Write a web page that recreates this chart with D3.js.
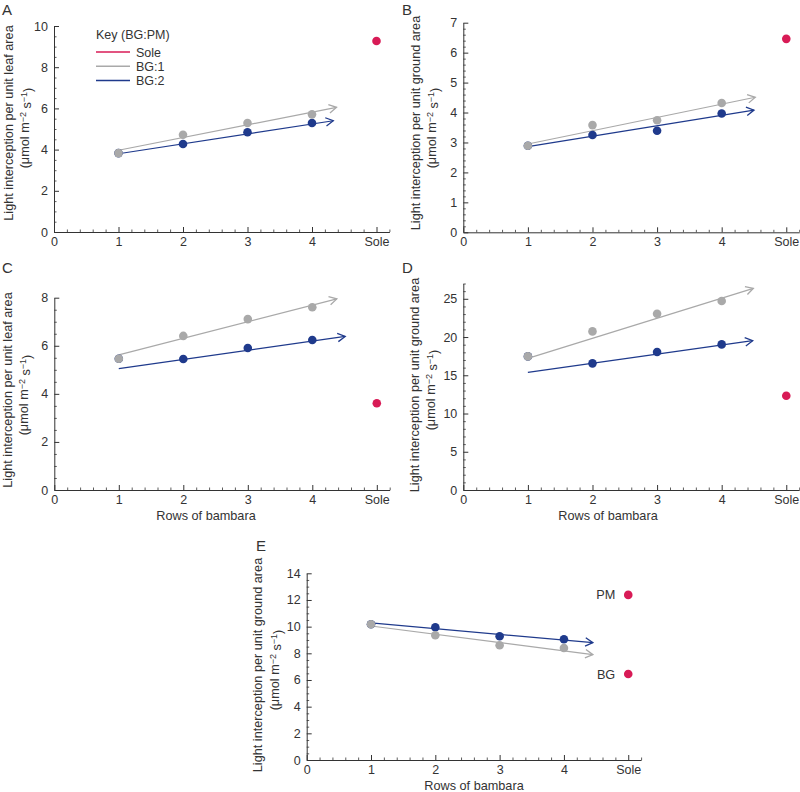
<!DOCTYPE html>
<html>
<head>
<meta charset="utf-8">
<script src="https://cdn.jsdelivr.net/npm/d3@7/dist/d3.min.js"></script>
<style>
  html, body { margin: 0; padding: 0; background: #fff; }
  svg { display: block; font-family: "Liberation Sans", Arial, Helvetica, sans-serif; }
</style>
</head>
<body>
<svg id="chart" width="800" height="792"></svg>
<script>
// ---------------- DATA ----------------
const xTickLabels = ["0", "1", "2", "3", "4", "Sole"];
const rows = [1, 2, 3, 4];
const soleX = 5;

// Panel A: light interception per unit leaf area
const aBG1 = [3.83, 4.72, 5.29, 5.71];
const aBG2 = [3.83, 4.27, 4.84, 5.29];
const aSole = [9.27];
const aTrend1 = [[1, 3.97], [4.38, 6.05]];
const aTrend2 = [[1, 3.80], [4.33, 5.40]];

// Panel B: per unit ground area
const bBG1 = [2.89, 3.58, 3.74, 4.32];
const bBG2 = [2.89, 3.25, 3.39, 3.97];
const bSole = [6.46];
const bTrend1 = [[1, 2.95], [4.52, 4.51]];
const bTrend2 = [[1, 2.86], [4.50, 4.08]];

// Panel C: per unit leaf area
const cBG1 = [5.46, 6.41, 7.11, 7.60];
const cBG2 = [5.46, 5.45, 5.91, 6.24];
const cSole = [3.61];
const cTrend1 = [[1, 5.62], [4.38, 7.95]];
const cTrend2 = [[1, 5.05], [4.51, 6.39]];

// Panel D: per unit ground area
const dBG1 = [17.47, 20.74, 23.05, 24.71];
const dBG2 = [17.47, 16.56, 18.04, 19.04];
const dSole = [12.33];
const dTrend1 = [[1, 17.21], [4.49, 26.37]];
const dTrend2 = [[1, 15.38], [4.48, 19.52]];

// Panel E: per unit ground area
const eBG1 = [10.18, 9.35, 8.60, 8.40];
const eBG2 = [10.18, 9.95, 9.28, 9.05];
const eSole = [12.38, 6.45];
const eSoleLabels = ["PM", "BG"];
const eTrend1 = [[1, 10.05], [4.45, 7.90]];
const eTrend2 = [[1, 10.28], [4.45, 8.80]];

const legendLabels = ["Sole", "BG:1", "BG:2"];
const legendTitle = "Key (BG:PM)";
const yTitleLeaf = "Light interception per unit leaf area";
const yTitleGround = "Light interception per unit ground area";
const xTitle = "Rows of bambara";

// ---------------- STYLE / LAYOUT ----------------
const COL = { sole: "#d81b56", bg1: "#a9a9a9", bg2: "#1f3a8c", axis: "#333", text: "#333" };

const panels = [
  { id: "A", x0: 54, x1: 389.4, y0: 232, y1: 26, yDomainTop: 10, yMajor: d3.range(0, 10.01, 2), yMinor: 0.5,
    bg1: aBG1, bg2: aBG2, sole: aSole, t1: aTrend1, t2: aTrend2, title: yTitleLeaf,
    letter: [2, 15], tx1: 9, tx2: 25, tcy: 123, xt: null, legend: true },
  { id: "B", x0: 463.3, x1: 799.2, y0: 232.3, y1: 22.7, yDomainTop: 7, yMajor: d3.range(0, 7.01, 1), yMinor: 0.2,
    bg1: bBG1, bg2: bBG2, sole: bSole, t1: bTrend1, t2: bTrend2, title: yTitleGround,
    letter: [402, 15], tx1: 416, tx2: 432, tcy: 123, xt: null },
  { id: "C", x0: 54.3, x1: 389.7, y0: 490, y1: 297.7, yDomainTop: 8, yMajor: d3.range(0, 8.01, 2), yMinor: 0.5,
    bg1: cBG1, bg2: cBG2, sole: cSole, t1: cTrend1, t2: cTrend2, title: yTitleLeaf,
    letter: [2, 273], tx1: 8, tx2: 24, tcy: 390, xt: [206, 520] },
  { id: "D", x0: 463.3, x1: 799.2, y0: 490, y1: 283.5, yDomainTop: 27, yMajor: d3.range(0, 25.01, 5), yMinor: 1,
    bg1: dBG1, bg2: dBG2, sole: dSole, t1: dTrend1, t2: dTrend2, title: yTitleGround,
    letter: [402, 273], tx1: 415, tx2: 431, tcy: 385, xt: [608, 520] },
  { id: "E", x0: 306.7, x1: 641.1, y0: 760, y1: 573.3, yDomainTop: 14, yMajor: d3.range(0, 14.01, 2), yMinor: 0.5,
    bg1: eBG1, bg2: eBG2, sole: eSole, soleLabels: eSoleLabels, t1: eTrend1, t2: eTrend2, title: yTitleGround,
    letter: [256, 551], tx1: 258, tx2: 275, tcy: 665, xt: [474, 790] }
];

const svg = d3.select("#chart");
const defs = svg.append("defs");
[["arr-bg1", COL.bg1], ["arr-bg2", COL.bg2]].forEach(([id, c]) => {
  defs.append("marker")
    .attr("id", id).attr("markerUnits", "userSpaceOnUse")
    .attr("viewBox", "-1 -6 10 12").attr("markerWidth", 10).attr("markerHeight", 12)
    .attr("refX", 7.5).attr("refY", 0).attr("orient", "auto")
    .append("path").attr("d", "M0,-4.2 L7.5,0 L0,4.2")
    .attr("fill", "none").attr("stroke", c).attr("stroke-width", 1.3);
});

panels.forEach(p => {
  const x = d3.scaleLinear().domain([0, 5.2]).range([p.x0, p.x1]);
  const y = d3.scaleLinear().domain([0, p.yDomainTop]).range([p.y0, p.y1]);
  const g = svg.append("g");

  // minor ticks
  const yMinorVals = d3.range(0, p.yDomainTop + 1e-6, p.yMinor).filter(v => !p.yMajor.some(m => Math.abs(m - v) < 1e-6));
  const xMinorVals = d3.range(0, 5.2 + 1e-6, 0.2).filter(v => Math.abs(v - Math.round(v)) > 1e-6);

  g.append("g").attr("transform", `translate(${p.x0},0)`)
    .call(d3.axisLeft(y).tickValues(yMinorVals).tickSize(-2.5).tickSizeOuter(0).tickFormat(""))
    .call(s => s.select(".domain").remove())
    .call(s => s.selectAll("line").attr("stroke", COL.axis).attr("stroke-width", 0.8));
  g.append("g").attr("transform", `translate(0,${p.y0})`)
    .call(d3.axisBottom(x).tickValues(xMinorVals).tickSize(-2.5).tickSizeOuter(0).tickFormat(""))
    .call(s => s.select(".domain").remove())
    .call(s => s.selectAll("line").attr("stroke", COL.axis).attr("stroke-width", 0.8));

  // major axes
  g.append("g").attr("transform", `translate(${p.x0},0)`)
    .call(d3.axisLeft(y).tickValues(p.yMajor).tickSize(-5).tickSizeOuter(0).tickPadding(6).tickFormat(d3.format("d")))
    .call(s => s.select(".domain").attr("stroke", COL.axis).attr("stroke-width", 1))
    .call(s => s.selectAll("line").attr("stroke", COL.axis).attr("stroke-width", 1))
    .call(s => s.selectAll("text").attr("font-size", 12.5).attr("fill", COL.text).attr("font-family", null));
  g.append("g").attr("transform", `translate(0,${p.y0})`)
    .call(d3.axisBottom(x).tickValues([0, 1, 2, 3, 4, 5]).tickSize(-5).tickSizeOuter(0).tickPadding(5)
      .tickFormat(d => xTickLabels[d]))
    .call(s => s.select(".domain").attr("stroke", COL.axis).attr("stroke-width", 1))
    .call(s => s.selectAll("line").attr("stroke", COL.axis).attr("stroke-width", 1))
    .call(s => s.selectAll("text").attr("font-size", 12.5).attr("fill", COL.text).attr("font-family", null));

  // panel letter
  svg.append("text").attr("x", p.letter[0]).attr("y", p.letter[1])
    .attr("font-size", 15).attr("fill", COL.text).text(p.id);

  // y title (two lines)
  svg.append("text").attr("transform", `translate(${p.tx1},${p.tcy}) rotate(-90)`)
    .attr("text-anchor", "middle").attr("dy", "0.35em").attr("font-size", 12.7).attr("fill", COL.text).text(p.title);
  const t2 = svg.append("text").attr("transform", `translate(${p.tx2},${p.tcy + 5}) rotate(-90)`)
    .attr("text-anchor", "middle").attr("dy", "0.35em").attr("font-size", 12.7).attr("fill", COL.text);
  t2.append("tspan").text("(μmol m");
  t2.append("tspan").attr("dy", "-0.4em").attr("font-size", 9).text("−2");
  t2.append("tspan").attr("dy", "0.4em").text(" s");
  t2.append("tspan").attr("dy", "-0.4em").attr("font-size", 9).text("−1");
  t2.append("tspan").attr("dy", "0.4em").text(")");

  // x title
  if (p.xt) {
    svg.append("text").attr("x", p.xt[0]).attr("y", p.xt[1]).attr("text-anchor", "middle")
      .attr("font-size", 12.7).attr("fill", COL.text).text(xTitle);
  }

  // trend lines
  const line = d3.line().x(d => x(d[0])).y(d => y(d[1]));
  g.append("path").datum(p.t1).attr("d", line).attr("fill", "none")
    .attr("stroke", COL.bg1).attr("stroke-width", 1.2).attr("marker-end", "url(#arr-bg1)");
  g.append("path").datum(p.t2).attr("d", line).attr("fill", "none")
    .attr("stroke", COL.bg2).attr("stroke-width", 1.2).attr("marker-end", "url(#arr-bg2)");

  // points
  g.selectAll(".b2").data(rows).join("circle").attr("class", "b2")
    .attr("cx", (d) => x(d)).attr("cy", (d, i) => y(p.bg2[i])).attr("r", 4.3).attr("fill", COL.bg2);
  g.selectAll(".b1").data(rows).join("circle").attr("class", "b1")
    .attr("cx", (d) => x(d)).attr("cy", (d, i) => y(p.bg1[i])).attr("r", 4.3).attr("fill", COL.bg1);
  g.selectAll(".sole").data(p.sole).join("circle").attr("class", "sole")
    .attr("cx", x(soleX)).attr("cy", d => y(d)).attr("r", 4.3).attr("fill", COL.sole);
  if (p.soleLabels) {
    g.selectAll(".solelab").data(p.sole).join("text").attr("class", "solelab")
      .attr("x", x(soleX) - 13).attr("y", d => y(d)).attr("dy", "0.36em").attr("text-anchor", "end")
      .attr("font-size", 12.7).attr("fill", COL.text).text((d, i) => p.soleLabels[i]);
  }

  // legend
  if (p.legend) {
    const lg = svg.append("g");
    lg.append("text").attr("x", 96).attr("y", 39).attr("font-size", 12.5).attr("fill", COL.text).text(legendTitle);
    const cols = [COL.sole, COL.bg1, COL.bg2];
    legendLabels.forEach((lab, i) => {
      const yy = 52 + i * 14.2;
      lg.append("line").attr("x1", 96).attr("x2", 130).attr("y1", yy).attr("y2", yy)
        .attr("stroke", cols[i]).attr("stroke-width", 1.5);
      lg.append("text").attr("x", 136).attr("y", yy).attr("dy", "0.36em")
        .attr("font-size", 12.5).attr("fill", COL.text).text(lab);
    });
  }
});
</script>
</body>
</html>
